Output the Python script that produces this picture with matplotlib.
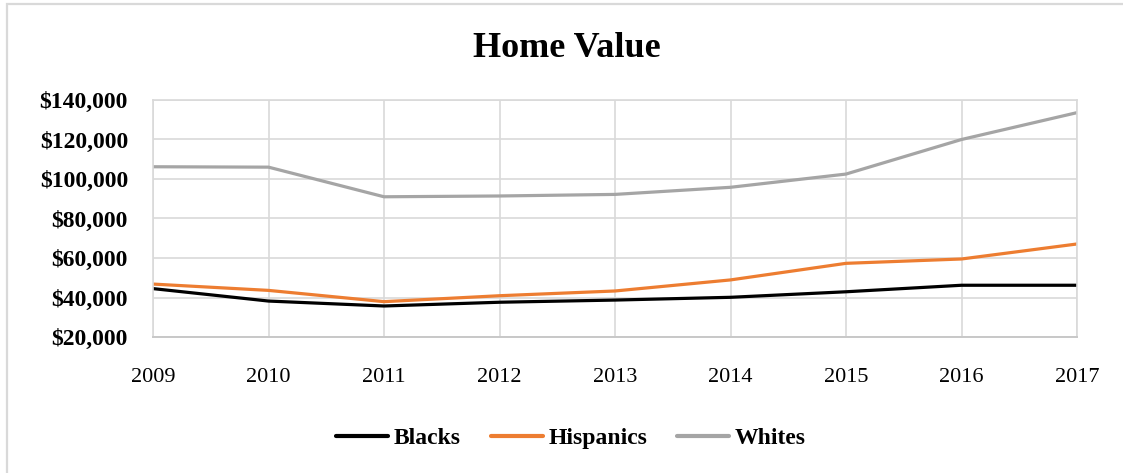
import matplotlib
matplotlib.use("Agg")
import matplotlib.pyplot as plt
from matplotlib.patches import Rectangle
from matplotlib.ticker import FuncFormatter

years = [2009, 2010, 2011, 2012, 2013, 2014, 2015, 2016, 2017]
blacks = [44500, 38200, 35700, 37600, 38700, 40100, 42900, 46200, 46200]
hispanics = [46800, 43600, 37900, 40900, 43300, 48900, 57300, 59500, 67100]
whites = [106200, 106000, 91000, 91400, 92200, 95800, 102500, 120000, 133600]
yticks = [20000, 40000, 60000, 80000, 100000, 120000, 140000]

plt.rcParams['font.family'] = ['Liberation Serif', 'DejaVu Serif']

W, H = 1123, 473
fig = plt.figure(figsize=(W / 100, H / 100), dpi=100)
fig.patch.set_facecolor('white')

# chart area border
fig.patches.append(Rectangle((7 / W, -0.1), 1.2, (H - 4) / H + 0.1,
                             transform=fig.transFigure, fill=False,
                             edgecolor='#D9D9D9', linewidth=1.6))

ax = fig.add_axes([153 / W, 1 - 337 / H, (1077 - 153) / W, (337 - 100) / H])

ax.plot(years, blacks, color='#000000', lw=2.3, label='Blacks', solid_capstyle='round')
ax.plot(years, hispanics, color='#ED7D31', lw=2.3, label='Hispanics', solid_capstyle='round')
ax.plot(years, whites, color='#A5A5A5', lw=2.3, label='Whites', solid_capstyle='round')

ax.set_xlim(years[0], years[-1])
ax.set_ylim(20000, 140000)
ax.set_xticks(years)
ax.set_yticks(yticks)
ax.yaxis.set_major_formatter(FuncFormatter(lambda v, p: f"${int(v):,}"))
ax.grid(True, color='#D9D9D9', linewidth=1.2)
ax.set_axisbelow(True)
for s in ['top', 'right', 'left']:
    ax.spines[s].set_color('#D9D9D9')
    ax.spines[s].set_linewidth(1.2)
ax.spines['bottom'].set_color('#C8C8C8')
ax.spines['bottom'].set_linewidth(1.4)

ax.tick_params(axis='both', length=0)
ax.tick_params(axis='y', pad=18, labelsize=17)
ax.tick_params(axis='x', pad=22, labelsize=16)
for lab in ax.get_yticklabels():
    lab.set_fontweight('bold')

fig.text(567 / W, 1 - 57 / H, 'Home Value', ha='center', va='baseline',
         fontsize=26, fontweight='bold')

leg = fig.legend(loc='center', bbox_to_anchor=(571 / W, 1 - 438 / H), ncol=3,
                 frameon=False, prop={'weight': 'bold', 'size': 17},
                 handlelength=2.2, handletextpad=0.25, columnspacing=1.25)
for h in leg.get_lines():
    h.set_linewidth(3)

fig.savefig('out.png', dpi=100, facecolor='white')
